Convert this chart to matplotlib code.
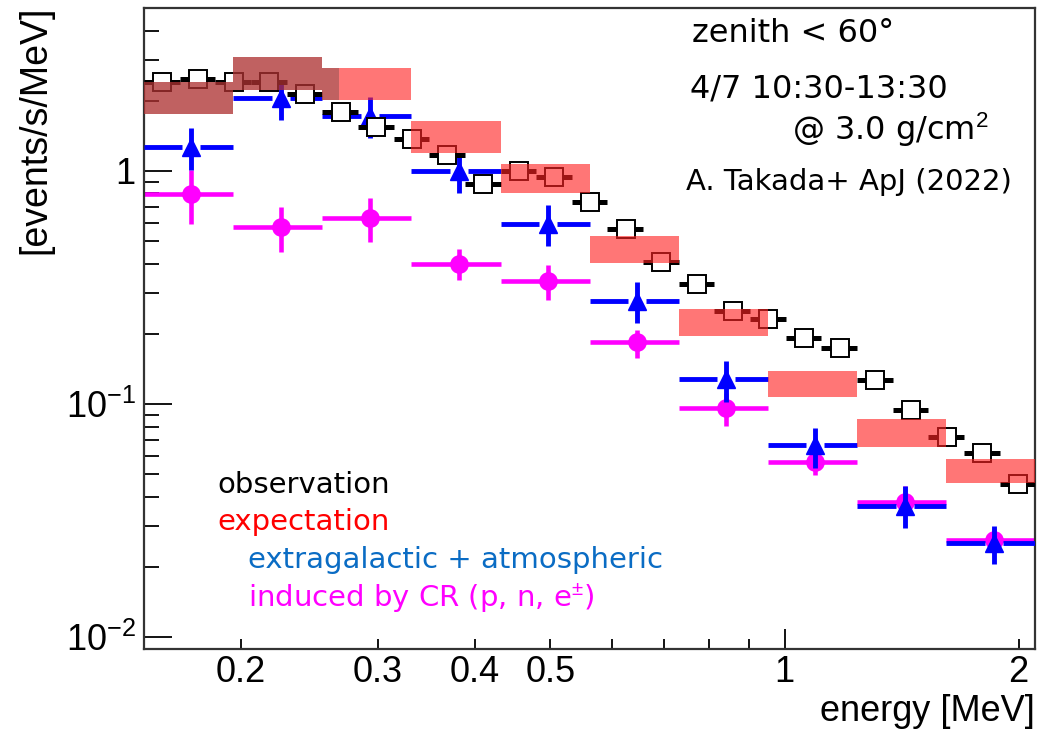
import numpy as np
import matplotlib
matplotlib.use("Agg")
from matplotlib import pyplot as plt
from matplotlib.ticker import FixedLocator, FixedFormatter

plt.rcParams['font.family'] = ['Liberation Sans', 'DejaVu Sans']
plt.rcParams['mathtext.fontset'] = 'custom'
plt.rcParams['mathtext.rm'] = 'Liberation Sans'
plt.rcParams['mathtext.it'] = 'Liberation Sans:italic'
plt.rcParams['mathtext.bf'] = 'Liberation Sans:bold'

# fine binning of the measured spectrum [MeV]
obs_edges = [0.1500, 0.1667, 0.1853, 0.2059, 0.2288, 0.2543, 0.2826, 0.3141, 0.3491,
             0.3880, 0.4312, 0.4792, 0.5326, 0.5919, 0.6578, 0.7311, 0.8125, 0.9030,
             1.0036, 1.1153, 1.2395, 1.3776, 1.5310, 1.7015, 1.8910, 2.1000]
obs_rate = [2.41, 2.48, 2.41, 2.41, 2.14, 1.79, 1.545, 1.371, 1.171, 0.880,
            1.00, 0.942, 0.736, 0.564, 0.407, 0.327, 0.251, 0.232, 0.192, 0.174,
            0.127, 0.0942, 0.0722, 0.0616, 0.0454]

# coarse binning of the simulated components [MeV]
sim_edges = [0.1500, 0.1953, 0.2543, 0.3312, 0.4312, 0.5616, 0.7311, 0.9522, 1.2398, 1.6144, 2.1000]
exp_low = [1.757, 2.23, 2.02, 1.195, 0.805, 0.403, 0.196, 0.107, 0.0654, 0.0458]
exp_high = [2.41, 3.09, 2.77, 1.64, 1.07, 0.526, 0.256, 0.139, 0.0862, 0.0581]

egal_rate = [1.268, 2.06, 1.72, 1.00, 0.592, 0.277, 0.128, 0.0667, 0.0365, 0.0253]
egal_low = [1.01, 1.655, 1.386, 0.804, 0.477, 0.223, 0.102, 0.0532, 0.0294, 0.0205]
egal_high = [1.53, 2.39, 2.08, 1.195, 0.715, 0.334, 0.153, 0.0789, 0.0445, 0.0300]

cr_rate = [0.797, 0.575, 0.628, 0.399, 0.337, 0.185, 0.0961, 0.0564, 0.0380, 0.0261]
cr_low = [0.592, 0.449, 0.496, 0.341, 0.280, 0.158, 0.0806, 0.0497, 0.0351, 0.0233]
cr_high = [1.01, 0.700, 0.766, 0.463, 0.395, 0.208, 0.111, 0.0647, 0.0445, 0.0294]

shade_edge = 0.267   # expectation boxes below this energy are drawn darker

xtick_major = [1]
xtick_minor = [0.2, 0.3, 0.4, 0.5, 0.6, 0.7, 0.8, 0.9, 2]
xtick_minor_labels = ['0.2', '0.3', '0.4', '0.5', '', '', '', '', '2']
ytick_major = [0.01, 0.1, 1]
ytick_major_labels = [r'$10^{-2}$', r'$10^{-1}$', '1']

fine_lo = np.array(obs_edges[:-1])
fine_hi = np.array(obs_edges[1:])
fine_mid = (fine_lo + fine_hi) / 2
sim_lo = np.array(sim_edges[:-1])
sim_hi = np.array(sim_edges[1:])
sim_mid = (sim_lo + sim_hi) / 2
exp_low = np.array(exp_low)
exp_high = np.array(exp_high)

fig = plt.figure(figsize=(10.48, 7.35), dpi=100)
ax = fig.add_axes([0.1374, 0.1170, 0.8502, 0.8721])
ax.set_xscale('log')
ax.set_yscale('log')

# induced by cosmic rays
ax.hlines(cr_rate, sim_lo, sim_hi, color='#ff00ff', lw=3.3, zorder=2)
ax.vlines(sim_mid, cr_low, cr_high, color='#ff00ff', lw=3.3, zorder=2)
ax.plot(sim_mid, cr_rate, 'o', ms=12.5, color='#ff00ff', zorder=2)

# extragalactic + atmospheric, horizontal bar broken around the marker
gap = 1.027
ax.hlines(egal_rate, sim_lo, sim_mid / gap, color='blue', lw=3.5, zorder=3)
ax.hlines(egal_rate, sim_mid * gap, sim_hi, color='blue', lw=3.5, zorder=3)
ax.vlines(sim_mid, egal_low, egal_high, color='blue', lw=3.5, zorder=3)
ax.plot(sim_mid, egal_rate, '^', ms=13, color='blue', zorder=3)

# observation
ax.errorbar(fine_mid, obs_rate, xerr=[fine_mid - fine_lo, fine_hi - fine_mid],
            fmt='none', ecolor='black', elinewidth=3.6, capsize=0, zorder=4)
ax.plot(fine_mid, obs_rate, 's', ms=12.5, mfc='white', mec='black', mew=1.4, zorder=5)

# expectation band
ax.bar(sim_lo, exp_high - exp_low, bottom=exp_low, width=sim_hi - sim_lo, align='edge',
       color='#ff2222', alpha=0.62, lw=0, zorder=6)
dark = sim_lo < shade_edge
ax.bar(sim_lo[dark], (exp_high - exp_low)[dark], bottom=exp_low[dark],
       width=np.minimum(sim_hi[dark], shade_edge) - sim_lo[dark], align='edge',
       color='#5a4040', alpha=0.38, lw=0, zorder=7)

ax.set_xlim(obs_edges[0], obs_edges[-1])
ax.set_ylim(0.00888, 5.0)

ax.xaxis.set_major_locator(FixedLocator(xtick_major))
ax.xaxis.set_major_formatter(FixedFormatter(['1']))
ax.xaxis.set_minor_locator(FixedLocator(xtick_minor))
ax.xaxis.set_minor_formatter(FixedFormatter(xtick_minor_labels))
ax.yaxis.set_major_locator(FixedLocator(ytick_major))
ax.yaxis.set_major_formatter(FixedFormatter(ytick_major_labels))
ax.yaxis.set_minor_locator(FixedLocator([m * d for d in (0.01, 0.1, 1) for m in range(2, 10)]))

ax.tick_params(which='both', direction='in', top=False, right=False, width=1.3, colors='black')
ax.tick_params(axis='x', which='major', length=14.5, labelsize=26, pad=4)
ax.tick_params(axis='x', which='minor', length=7, labelsize=26, pad=4)
ax.tick_params(axis='y', which='major', length=20, labelsize=26, pad=6)
ax.tick_params(axis='y', which='minor', length=11, labelleft=False)
for sp in ax.spines.values():
    sp.set_linewidth(1.6)
    sp.set_color('#333333')

fig.text(0.0334, 0.992, '[events/s/MeV]', rotation=90, ha='center', va='top', fontsize=27)
fig.text(0.9876, 0.019, 'energy [MeV]', ha='right', va='baseline', fontsize=26)

note = dict(transform=ax.transAxes, family=['DejaVu Sans'], va='baseline')
ax.text(0.615, 0.947, 'zenith < 60°', fontsize=23, **note)
ax.text(0.613, 0.861, '4/7 10:30-13:30', fontsize=23, **note)
ax.text(0.727, 0.794, '@ 3.0 g/cm$^2$', fontsize=23, **note)
ax.text(0.608, 0.716, 'A. Takada+ ApJ (2022)', fontsize=21, **note)

ax.text(0.082, 0.243, 'observation', color='black', fontsize=21, **note)
ax.text(0.082, 0.186, 'expectation', color='red', fontsize=21, **note)
ax.text(0.117, 0.126, 'extragalactic + atmospheric', color='#0a6cc4', fontsize=21, **note)
ax.text(0.117, 0.0655, 'induced by CR (p, n, e$^{\\pm}$)', color='#ff00ff', fontsize=21, **note)

fig.savefig('out.png', dpi=100)
